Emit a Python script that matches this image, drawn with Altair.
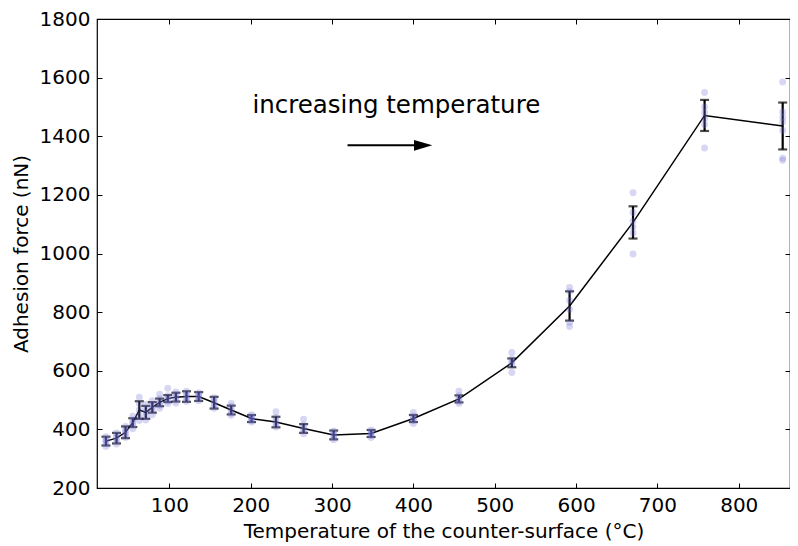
import altair as alt
import pandas as pd

# Temperature of counter-surface (deg C) and adhesion force (nN)
temps = [22, 35, 46, 55, 63, 71, 79, 88, 98, 108, 121, 136, 155, 176, 201,
         231, 265, 302, 348, 400, 456, 521, 592, 670, 758, 854]
mean_force = [360, 370, 390, 423, 466, 458, 475, 492, 505, 510, 512, 512, 491,
              466, 437, 425, 403, 381, 386, 437, 504, 627, 821, 1106, 1471, 1435]
err_force = [15, 18, 20, 15, 30, 22, 18, 13, 12, 15, 18, 15, 20, 15, 12,
             18, 15, 15, 12, 12, 12, 15, 50, 55, 53, 80]
samples = [
    [375, 366, 360, 352, 342],
    [388, 378, 370, 360, 350],
    [410, 398, 390, 382, 372],
    [445, 432, 423, 414, 402],
    [510, 488, 466, 445, 430],
    [485, 470, 458, 445, 432],
    [498, 485, 475, 465, 450],
    [520, 505, 492, 482, 472],
    [540, 515, 505, 497, 488],
    [528, 518, 510, 500, 490],
    [530, 520, 512, 503, 495],
    [525, 518, 512, 505, 498],
    [508, 500, 491, 480, 472],
    [488, 478, 466, 455, 448],
    [450, 442, 437, 430, 425],
    [460, 440, 428, 418, 408],
    [435, 415, 405, 395, 385],
    [395, 388, 380, 372, 365],
    [398, 390, 386, 380, 372],
    [458, 445, 437, 430, 420],
    [530, 515, 505, 495, 488],
    [662, 640, 630, 620, 594],
    [884, 870, 840, 810, 765, 751],
    [1207, 1140, 1110, 1090, 1070, 998],
    [1549, 1500, 1480, 1460, 1440, 1360],
    [1585, 1483, 1465, 1449, 1420, 1325, 1318],
]

x_ticks = [100, 200, 300, 400, 500, 600, 700, 800]
y_ticks = [200, 400, 600, 800, 1000, 1200, 1400, 1600, 1800]

ann_text = ["increasing temperature"]
ann_x = [379]
ann_y = [1481]
arrow_x = [319]
arrow_x2 = [412]
arrow_y = [1369]

W, H = 693, 469
FONT = "DejaVu Sans"

summary = pd.DataFrame({
    "T": temps,
    "F": mean_force,
    "lo": [m - e for m, e in zip(mean_force, err_force)],
    "hi": [m + e for m, e in zip(mean_force, err_force)],
})
pts = pd.DataFrame(
    [{"T": t, "F": v} for t, vals in zip(temps, samples) for v in vals]
)
ann = pd.DataFrame({"T": ann_x, "F": ann_y, "label": ann_text})
arr = pd.DataFrame({"T": arrow_x, "T2": arrow_x2, "F": arrow_y})

xs = alt.Scale(domain=[11, 863], nice=False, zero=False)
ys = alt.Scale(domain=[200, 1800], nice=False, zero=False)

xax = alt.Axis(values=x_ticks, title="Temperature of the counter-surface (°C)",
               format="d",
               ticks=False, domain=False, grid=True, gridColor="black",
               gridWidth=1, gridDash=[5, H - 10, 5, 3000], gridOpacity=1,
               labelFont=FONT, labelFontSize=20, labelColor="black",
               titleFont=FONT, titleFontSize=20, titleFontWeight="normal",
               titleColor="black", labelPadding=7, titlePadding=6)
yax = alt.Axis(values=y_ticks, title="Adhesion force (nN)",
               format="d",
               ticks=False, domain=False, grid=True, gridColor="black",
               gridWidth=1, gridDash=[5, W - 10, 5, 3000], gridOpacity=1,
               labelFont=FONT, labelFontSize=20, labelColor="black",
               titleFont=FONT, titleFontSize=20, titleFontWeight="normal",
               titleColor="black", labelPadding=7, titlePadding=8)

line = alt.Chart(summary).mark_line(color="black", strokeWidth=1.5).encode(
    x=alt.X("T:Q", scale=xs, axis=xax),
    y=alt.Y("F:Q", scale=ys, axis=yax),
)
bars = alt.Chart(summary).mark_rule(color="black", strokeWidth=2.2).encode(
    x="T:Q", y="lo:Q", y2="hi:Q")
cap_lo = alt.Chart(summary).mark_tick(color="black", thickness=2.2, size=9,
                                      orient="horizontal").encode(x="T:Q", y="lo:Q")
cap_hi = alt.Chart(summary).mark_tick(color="black", thickness=2.2, size=9,
                                      orient="horizontal").encode(x="T:Q", y="hi:Q")
dots = alt.Chart(pts).mark_circle(size=48, color="#7070d8", opacity=0.28).encode(
    x="T:Q", y="F:Q")

text = alt.Chart(ann).mark_text(font=FONT, fontSize=24.5, color="black",
                                align="center", baseline="alphabetic").encode(
    x="T:Q", y="F:Q", text="label:N")
arrow_line = alt.Chart(arr).mark_rule(color="black", strokeWidth=2).encode(
    x="T:Q", x2="T2:Q", y="F:Q")
arrow_head = alt.Chart(arr).mark_point(
    shape="M -1 -0.58 L 1 0 L -1 0.58 Z", size=335, filled=True,
    color="black", opacity=1).encode(x="T2:Q", y="F:Q")

chart = alt.layer(line, bars, cap_lo, cap_hi, dots, text, arrow_line, arrow_head).properties(
    width=W, height=H,
    autosize=alt.AutoSizeParams(type="none"),
    padding={"left": 89, "top": 11, "right": 0, "bottom": 58},
    background="white",
).configure_view(stroke="black", strokeWidth=1.2)

chart.save("out.html", embed_options={"renderer": "svg", "actions": False})
